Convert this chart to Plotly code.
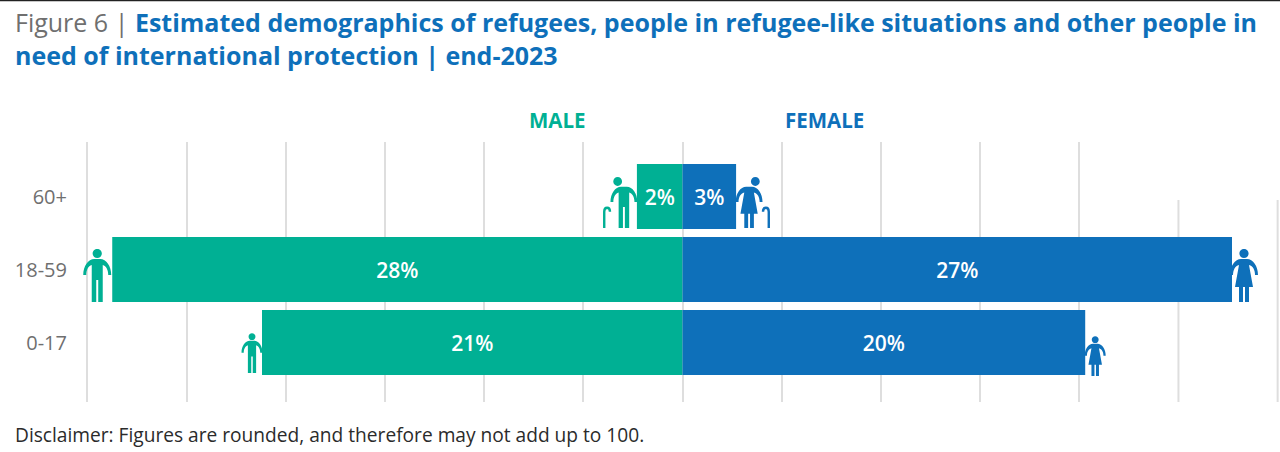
import plotly.graph_objects as go

# ---- data ----
age_groups = ["0-17", "18-59", "60+"]
male_values = [21.2, 28.75, 2.3]
female_values = [20.3, 27.7, 2.7]
male_labels = ["21%", "28%", "2%"]
female_labels = ["20%", "27%", "3%"]
grid_full = [-30, -25, -20, -15, -10, -5, 0, 5, 10, 15, 20]
grid_short = [25, 30]

# ---- style ----
TEAL = "#00B094"
BLUE = "#0E70BA"
GRID = "#DEDEDE"
FONT = "Open Sans"
W, H = 1280, 452
L, R, T, B = 68, 0, 142, 50
PW, PH = W - L - R, H - T - B


def px(x):
    return (x - L) / PW


def py(y):
    return (H - B - y) / PH


BODY_M = [("M", -14, 27), ("C", -14, 36, -9, 43, -3, 43), ("L", 3, 43), ("C", 9, 43, 14, 36, 14, 27),
          ("L", 11, 27), ("C", 11, 32, 9, 36, 5.5, 37), ("L", 5.5, 0), ("L", 1, 0), ("L", 1, 22), ("L", -1, 22),
          ("L", -1, 0), ("L", -5.5, 0), ("L", -5.5, 37), ("C", -9, 36, -11, 32, -11, 27), ("Z",)]
BODY_F = [("M", -14, 27), ("C", -14, 36, -9, 43, -3, 43), ("L", 3, 43), ("C", 9, 43, 14, 36, 14, 27),
          ("L", 11, 27), ("C", 11, 32, 9, 36, 5, 37), ("L", 9, 15), ("L", 5, 15), ("L", 5, 0), ("L", 1, 0),
          ("L", 1, 15), ("L", -1, 15), ("L", -1, 0), ("L", -5, 0), ("L", -5, 15), ("L", -9, 15), ("L", -5, 37),
          ("C", -9, 36, -11, 32, -11, 27), ("Z",)]


def head(dx, cy=48.5, r=4.6):
    k = r * 0.55
    return [("M", dx - r, cy), ("C", dx - r, cy + k, dx - k, cy + r, dx, cy + r),
            ("C", dx + k, cy + r, dx + r, cy + k, dx + r, cy),
            ("C", dx + r, cy - k, dx + k, cy - r, dx, cy - r),
            ("C", dx - k, cy - r, dx - r, cy - k, dx - r, cy), ("Z",)]


def to_path(segments, ox, oy, s):
    out = []
    for seg in segments:
        c, nums = seg[0], seg[1:]
        xy = [(ox + s * nums[i]) if i % 2 == 0 else (oy + s * nums[i]) for i in range(len(nums))]
        if xy:
            out.append(c + " " + " ".join(f"{p:.2f}" for p in xy))
        else:
            out.append(c)
    return " ".join(out)


shapes = []
for g in grid_short:
    shapes.append(dict(type="line", xref="x", yref="paper", x0=g, x1=g, y0=0, y1=py(200),
                       line=dict(color=GRID, width=2), layer="below"))
shapes.append(dict(type="rect", xref="paper", yref="paper", x0=px(0), x1=px(W), y0=py(1.2), y1=py(0),
                   fillcolor="#222222", line=dict(width=0)))


def add_person(age, value, kind, color, dx, dy, scale, head_dx=0, cane=0):
    body = BODY_M if kind == "m" else BODY_F
    path = to_path(body + head(head_dx), dx, dy, scale)
    shapes.append(dict(type="path", xref="x", yref="y", xsizemode="pixel", ysizemode="pixel",
                       xanchor=value, yanchor=age, path=path, fillcolor=color, line=dict(width=0)))
    if cane:
        stem = cane * 20.5
        tip = cane * 14.5
        cane_segs = [("M", stem, 0), ("L", stem, 17), ("C", stem, 22.5, tip, 22.5, tip, 17)]
        shapes.append(dict(type="path", xref="x", yref="y", xsizemode="pixel", ysizemode="pixel",
                           xanchor=value, yanchor=age, path=to_path(cane_segs, dx, dy, scale),
                           line=dict(color=color, width=2.4)))


add_person("18-59", -male_values[1], "m", TEAL, -15, -32.5, 1.0)
add_person("0-17", -male_values[0], "m", TEAL, -10, -30.5, 0.75)
add_person("60+", -male_values[2], "m", TEAL, -13, -31.5, 0.96, head_dx=-6.5, cane=-1)
add_person("18-59", female_values[1], "f", BLUE, 12, -32.5, 1.0)
add_person("0-17", female_values[0], "f", BLUE, 10, -33.5, 0.75)
add_person("60+", female_values[2], "f", BLUE, 13, -31.5, 0.96, head_dx=6.5, cane=1)

fig = go.Figure()
fig.add_trace(go.Bar(y=age_groups, x=[-v for v in male_values], orientation="h", name="MALE",
                     marker=dict(color=TEAL, line=dict(width=0)), text=male_labels,
                     textposition="inside", insidetextanchor="middle", textangle=0,
                     textfont=dict(color="white", size=21, family=FONT, weight=600), hoverinfo="skip"))
fig.add_trace(go.Bar(y=age_groups, x=female_values, orientation="h", name="FEMALE",
                     marker=dict(color=BLUE, line=dict(width=0)), text=female_labels,
                     textposition="inside", insidetextanchor="middle", textangle=0,
                     textfont=dict(color="white", size=21, family=FONT, weight=600), hoverinfo="skip"))


def note(x, y, text, size, color, anchor="left", weight=400):
    return dict(xref="paper", yref="paper", x=px(x), y=py(y), text=text, showarrow=False, xanchor=anchor,
                yanchor="middle", font=dict(family=FONT, size=size, color=color, weight=weight))


fig.update_layout(
    width=W, height=H,
    barmode="relative", bargap=0.11,
    showlegend=False,
    paper_bgcolor="white", plot_bgcolor="white",
    margin=dict(l=L, r=R, t=T, b=B, autoexpand=False),
    title=dict(
        text="<span style='font-weight:400;color:#6F6F6F'>Figure 6 | </span>"
             "<b>Estimated demographics of refugees, people in refugee-like situations and other people in"
             "<br>need of international protection | end-2023</b>",
        xref="container", yref="container", x=15 / W, xanchor="left", y=1 - 32 / H, yanchor="top",
        font=dict(family=FONT, size=25, color=BLUE)),
    xaxis=dict(range=[-30.98, 30.12], tickmode="array", tickvals=grid_full, showticklabels=False, ticks="",
               showgrid=True, gridcolor=GRID, gridwidth=2, zeroline=False, showline=False),
    yaxis=dict(type="category", categoryorder="array", categoryarray=age_groups, range=[-0.815, 2.747],
               showgrid=False, zeroline=False, showline=False, ticks="", ticklabelstandoff=0,
               tickfont=dict(family=FONT, size=20, color="#6F6F6F")),
    shapes=shapes,
    annotations=[
        note(557, 120, "MALE", 20.5, TEAL, "center", 700),
        note(824, 120, "FEMALE", 20.5, BLUE, "center", 700),
        note(13, 435, "Disclaimer: Figures are rounded, and therefore may not add up to 100.", 19.15, "#2B2B2B"),
    ],
)

fig.write_html("out.html", config=dict(displayModeBar=False),
               post_script="document.body.style.margin='0';document.documentElement.style.overflow='hidden';")
